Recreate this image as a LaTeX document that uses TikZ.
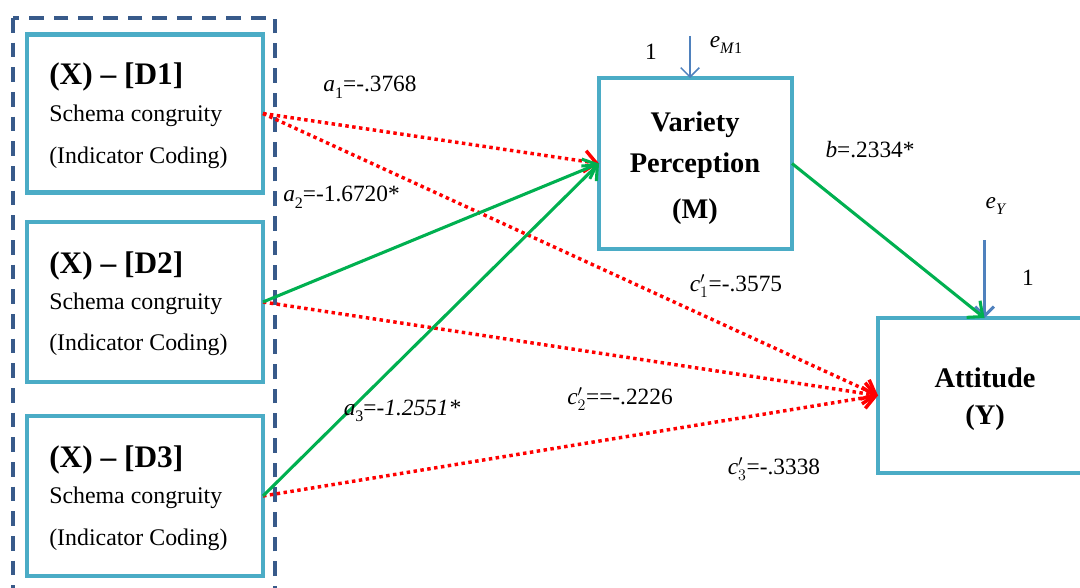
\documentclass[tikz,border=0pt]{standalone}
\usepackage{fontspec}
\setmainfont{Liberation Serif}
\usetikzlibrary{arrows.meta,calc}
\definecolor{boxc}{RGB}{75,172,198}
\definecolor{dashc}{RGB}{56,90,138}
\definecolor{grn}{RGB}{0,176,80}
\definecolor{rd}{RGB}{255,0,0}
\definecolor{blu}{RGB}{79,129,189}
\newcommand\vsub[2]{\textit{#1}\raisebox{-0.28em}{\fontsize{12}{12}\selectfont #2}}
\newcommand\vpsub[2]{\textit{#1}$'_{#2}$}
\tikzset{
  box/.style={draw=boxc, line width=3.5pt, fill=white, inner sep=0pt, outer sep=0pt},
  dbox/.style={box, minimum width=177pt},
  head/.style={anchor=west, font=\fontsize{23.5}{26}\selectfont\bfseries, inner sep=0pt},
  body/.style={anchor=west, font=\fontsize{17.9}{20}\selectfont, inner sep=0pt},
  bold/.style={font=\fontsize{21.3}{24}\selectfont\bfseries, inner sep=0pt},
  lab/.style={font=\fontsize{17.5}{20}\selectfont, inner sep=0pt},
  garrow/.style={draw=grn, line width=2.3pt, -{Straight Barb[length=9pt,width=16pt,line width=2.3pt]}},
  rarrow/.style={draw=rd, line width=2.6pt, dash pattern=on 2.6pt off 2.6pt, -{Straight Barb[length=9pt,width=16pt,line width=2.6pt]}},
  dashbox/.style={draw=dashc, line width=2.3pt, dash pattern=on 11pt off 7.5pt},
}
\begin{document}
\begin{tikzpicture}[x=0.75pt,y=-0.75pt]
\useasboundingbox (0,0) rectangle (1080,588);
\clip (0,0) rectangle (1080,588);
% dashed group frame
\draw[dashbox] (13,18) rectangle (275,610);
% X boxes
\node[dbox, minimum height=118.5pt] (d1) at (145,113.5) {};
\node[dbox, minimum height=120pt] (d2) at (145,302) {};
\node[dbox, minimum height=120pt] (d3) at (145,496) {};
\node[head] (d1h) at (49,77) {(X) -- [D1]};
\node[body] (d1s) at (49,116) {Schema congruity};
\node[body] (d1i) at (49,158) {(Indicator Coding)};
\node[head] (d2h) at (49,266) {(X) -- [D2]};
\node[body] (d2s) at (49,304) {Schema congruity};
\node[body] (d2i) at (49,345) {(Indicator Coding)};
\node[head] (d3h) at (49,460) {(X) -- [D3]};
\node[body] (d3s) at (49,498) {Schema congruity};
\node[body] (d3i) at (49,540) {(Indicator Coding)};
% mediator
\node[box, minimum width=144.75pt, minimum height=128.25pt] (m) at (695.5,163.5) {};
\node[bold] (m1) at (695,125) {Variety};
\node[bold] (m2) at (695,166) {Perception};
\node[bold] (m3) at (695,212) {(M)};
% outcome
\node[box, minimum width=159.75pt, minimum height=116.25pt] (y) at (984.5,395.5) {};
\node[bold] (y1) at (985,378) {Attitude};
\node[bold] (y2) at (985,418) {(Y)};
% error terms
\coordinate (eM) at (690,36);
\draw[draw=blu, line width=1.1pt, -{Straight Barb[length=7pt,width=14pt,line width=1.1pt]}] (eM) -- (m.north -| eM);
\node[lab] (eMl) at (726,45) {\vsub{e}{\textit{M}1}};
\node[lab] (oneM) at (651,52) {1};
\coordinate (eY) at (984.5,240);
\draw[draw=blu, line width=2.2pt, -{Straight Barb[length=7pt,width=14pt,line width=2.2pt]}] (eY) -- (y.north);
\node[lab] (eYl) at (996,206) {\vsub{e}{\textit{Y}}};
\node[lab] (oneY) at (1028,278) {1};
% paths
\draw[rarrow] (d1.east) -- (m.west);
\draw[rarrow] (d1.east) -- (y.west);
\draw[rarrow] (d2.east) -- (y.west);
\draw[rarrow] (d3.east) -- (y.west);
\draw[garrow] (d2.east) -- (m.west);
\draw[garrow] (d3.east) -- (m.west);
\draw[garrow] (m.east) -- (y.north);
% labels
\node[lab] (la1) at (370,87) {\vsub{a}{1}=-.3768};
\node[lab, anchor=west] (la2) at (283,197) {\vsub{a}{2}=-1.6720*};
\node[lab] (la3) at (402,411) {\vsub{a}{3}=\textit{-1.2551*}};
\node[lab] (lb) at (870,150) {\textit{b}=.2334*};
\node[lab] (lc1) at (736,286) {\vpsub{c}{1}=-.3575};
\node[lab] (lc2) at (620,399) {\vpsub{c}{2}==-.2226};
\node[lab] (lc3) at (774,469) {\vpsub{c}{3}=-.3338};
\end{tikzpicture}
\end{document}
